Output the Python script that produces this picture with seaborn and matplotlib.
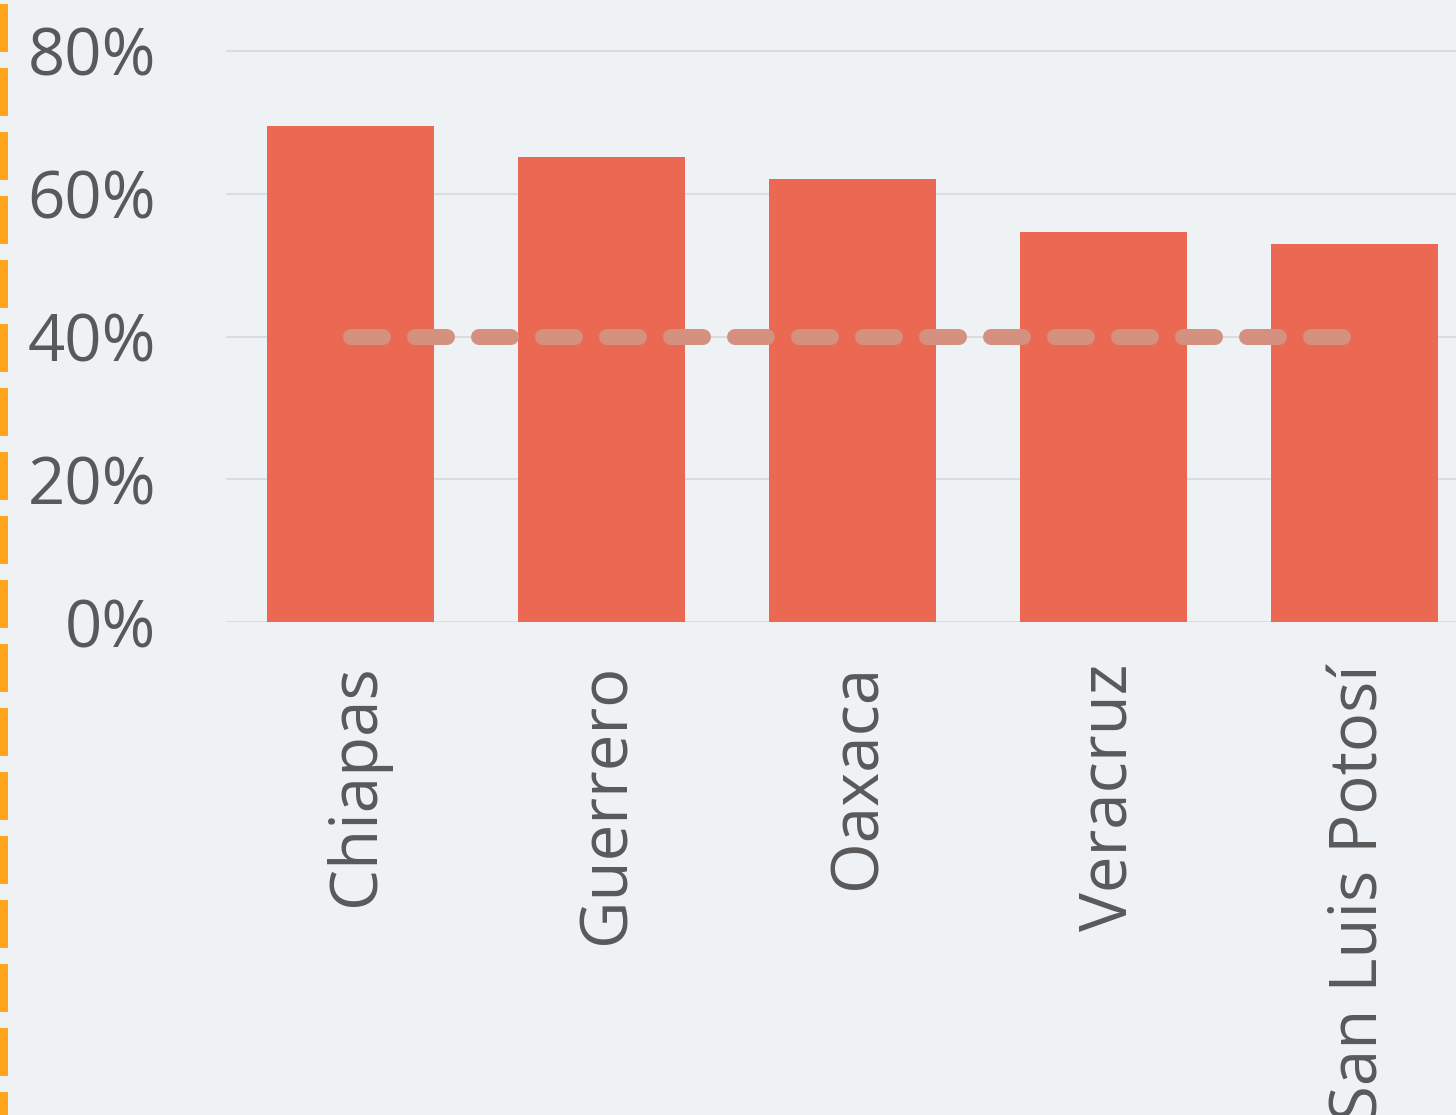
import matplotlib
matplotlib.use('Agg')
import matplotlib.pyplot as plt
from matplotlib.lines import Line2D
import matplotlib.ticker as mticker
import matplotlib.transforms as mtransforms
import pandas as pd
import seaborn as sns

# data
states = ['Chiapas', 'Guerrero', 'Oaxaca', 'Veracruz', 'San Luis Potosí']
share = [69.5, 65.1, 62.1, 54.6, 53.0]   # % of population
reference = [40, 40, 40, 40, 40]          # dashed reference line
yticks = [0, 20, 40, 60, 80]

BG = '#EFF2F5'
BAR = '#EB6852'
REF = '#D4917F'
TXT = '#595959'
GRID = '#D9DCE0'

sns.set_theme(style='white')
plt.rcParams['font.family'] = ['Open Sans', 'DejaVu Sans']

df = pd.DataFrame({'state': states, 'share': share})

DPI = 100
fig = plt.figure(figsize=(14.56, 11.15), dpi=DPI, facecolor=BG)
ax = fig.add_axes([226 / 1456, 493 / 1115, 1230 / 1456, (571 * 84 / 80) / 1115])
ax.set_facecolor(BG)

sns.barplot(data=df, x='state', y='share', color=BAR, width=0.665,
            saturation=1, linewidth=0, ax=ax, zorder=2)

# dashed reference line across the bar centres
px = 72 / DPI
ax.plot(range(len(states)), reference, color=REF, lw=16 * px,
        linestyle=(0, (2, 2)), dash_capstyle='round', zorder=3)

ax.set_xlim(-0.496, 4.404)
ax.set_ylim(0, 84)
ax.set_yticks(yticks)
ax.yaxis.set_major_formatter(mticker.FuncFormatter(lambda v, _: f'{v:.0f}%'))
ax.grid(axis='y', color=GRID, lw=2 * px, zorder=0)
ax.set_axisbelow(True)
for s in ax.spines.values():
    s.set_visible(False)
ax.set_xlabel('')
ax.set_ylabel('')
ax.tick_params(axis='y', length=0, pad=70 * px, labelsize=47, labelcolor=TXT)
ax.tick_params(axis='x', length=0, pad=42 * px, labelsize=47, labelcolor=TXT,
               rotation=90)
shift = mtransforms.ScaledTranslation(6 / DPI, 0, fig.dpi_scale_trans)
for lbl in ax.get_xticklabels():
    lbl.set_transform(lbl.get_transform() + shift)

# orange dashed strip on the left edge
fig.add_artist(Line2D([4 / 1456, 4 / 1456], [1, 0], transform=fig.transFigure,
                      color='#FFA41B', lw=8 * px, linestyle=(7.5, (6, 2)),
                      solid_capstyle='butt', dash_capstyle='butt'))

fig.savefig('out.png', dpi=DPI, facecolor=BG)
